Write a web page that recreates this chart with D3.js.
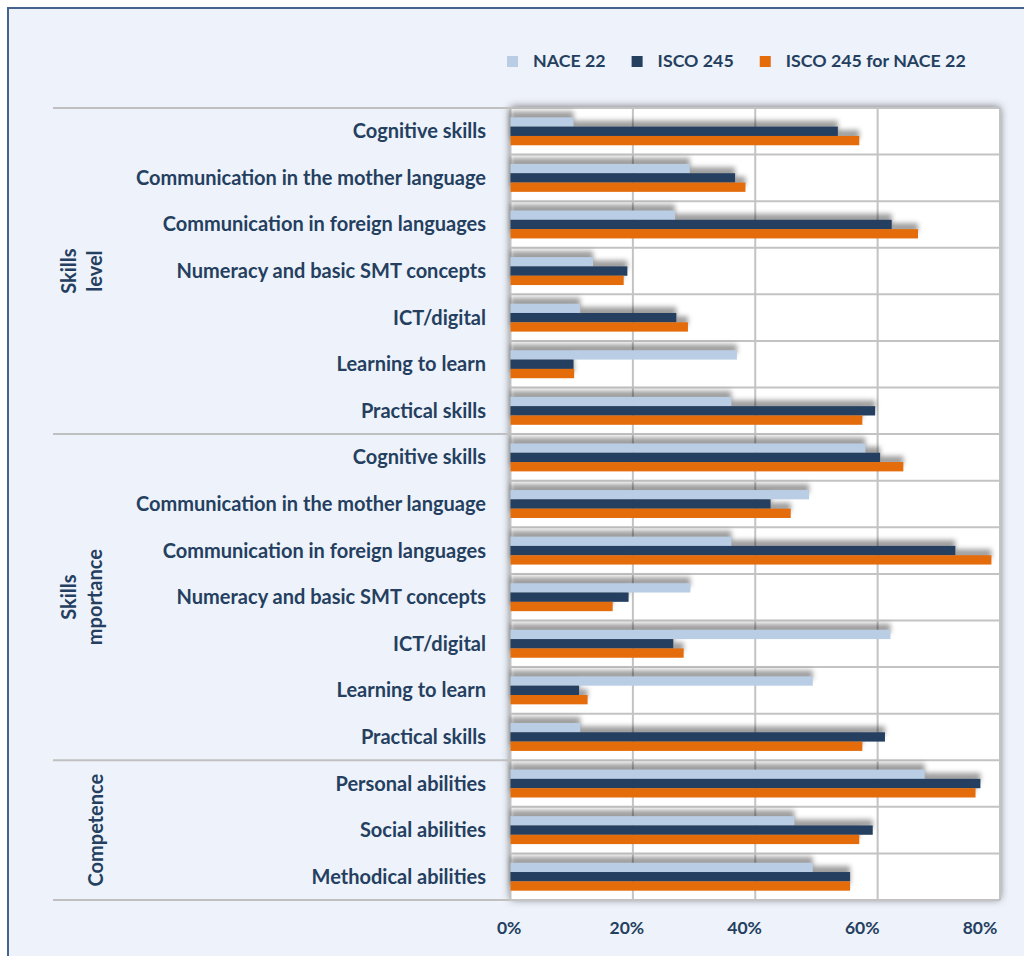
<!DOCTYPE html>
<html>
<head>
<meta charset="utf-8">
<script src="https://cdn.jsdelivr.net/npm/d3@7"></script>
<style>
  html, body { margin: 0; padding: 0; background: #ffffff; }
  svg { display: block; }
  text { font-family: Lato, "Open Sans", sans-serif; font-weight: 700; fill: #243f60; }
</style>
</head>
<body>
<svg id="chart" width="1024" height="956"></svg>
<script>
// Skill categories, top to bottom
const categories = [
  "Cognitive skills",
  "Communication in the mother language",
  "Communication in foreign languages",
  "Numeracy and basic SMT concepts",
  "ICT/digital",
  "Learning to learn",
  "Practical skills",
  "Cognitive skills",
  "Communication in the mother language",
  "Communication in foreign languages",
  "Numeracy and basic SMT concepts",
  "ICT/digital",
  "Learning to learn",
  "Practical skills",
  "Personal abilities",
  "Social abilities",
  "Methodical abilities"
];

// Category groups: label lines and number of rows in each
const groupLabels = [["Skills", "level"], ["Skills", "mportance"], ["Competence"]];
const groupSizes = [7, 7, 3];

// Series (percent)
const seriesNames = ["NACE 22", "ISCO 245", "ISCO 245 for NACE 22"];
const nace22 = [10.3, 29.3, 26.9, 13.5, 11.4, 37.0, 36.1, 58.0, 48.8, 36.1, 29.4, 62.1, 49.4, 11.4, 67.7, 46.4, 49.4];
const isco245 = [53.5, 36.7, 62.3, 19.1, 27.1, 10.3, 59.6, 60.4, 42.5, 72.7, 19.3, 26.6, 11.2, 61.2, 76.8, 59.2, 55.5];
const isco245ForNace22 = [57.0, 38.4, 66.6, 18.5, 29.0, 10.4, 57.5, 64.2, 45.8, 78.6, 16.7, 28.3, 12.6, 57.5, 76.0, 57.0, 55.5];

// Axis ticks
const tickValues = [0, 20, 40, 60, 80];

const seriesColors = ["#b9cde5", "#243f60", "#e46c0a"];
const seriesData = [nace22, isco245, isco245ForNace22];

const svg = d3.select("#chart");

// Panel background and frame
svg.append("rect")
  .attr("x", 8).attr("y", 8).attr("width", 1100).attr("height", 1000)
  .attr("fill", "#eef2fa").attr("stroke", "#46628f").attr("stroke-width", 2);

const plot = { left: 510.5, right: 1000, top: 108, bottom: 900 };

const x = d3.scaleLinear().domain([0, 80]).range([plot.left, plot.right]);
const y = d3.scaleBand().domain(d3.range(categories.length)).range([plot.top, plot.bottom]).paddingInner(0).paddingOuter(0);
const yInner = d3.scaleBand().domain(d3.range(seriesNames.length)).range([0, y.bandwidth() * 0.6]);
const groupOffset = y.bandwidth() * 0.2;

const defs = svg.append("defs");
const plotShadow = defs.append("filter").attr("id", "plotShadow")
  .attr("x", "-5%").attr("y", "-5%").attr("width", "110%").attr("height", "110%");
plotShadow.append("feDropShadow")
  .attr("dx", 0).attr("dy", -1).attr("stdDeviation", 4)
  .attr("flood-color", "#000").attr("flood-opacity", 0.55);

const barBlur = defs.append("filter").attr("id", "barBlur")
  .attr("x", "-10%").attr("y", "-50%").attr("width", "120%").attr("height", "200%");
barBlur.append("feGaussianBlur").attr("stdDeviation", 2.5);

// Plot area
svg.append("rect")
  .attr("x", plot.left).attr("y", plot.top)
  .attr("width", plot.right - plot.left).attr("height", plot.bottom - plot.top)
  .attr("fill", "#ffffff").attr("filter", "url(#plotShadow)");

// Gridlines
const grid = svg.append("g").attr("stroke", "#c3c3c3").attr("stroke-width", 2);
grid.selectAll("line.v").data(tickValues).join("line")
  .attr("class", "v")
  .attr("x1", d => x(d)).attr("x2", d => x(d))
  .attr("y1", plot.top).attr("y2", plot.bottom);
grid.selectAll("line.h").data(d3.range(categories.length + 1)).join("line")
  .attr("class", "h")
  .attr("x1", plot.left).attr("x2", plot.right)
  .attr("y1", d => plot.top + d * y.step()).attr("y2", d => plot.top + d * y.step());

// Bar records
const bars = [];
categories.forEach((c, i) => {
  seriesData.forEach((s, k) => bars.push({ i, k, v: s[i] }));
});

// Soft shadows above bars
svg.append("g")
  .attr("transform", "translate(0,-6)")
  .attr("filter", "url(#barBlur)")
  .selectAll("rect").data(bars).join("rect")
  .attr("x", x(0))
  .attr("y", d => y(d.i) + groupOffset + yInner(d.k))
  .attr("width", d => x(d.v) - x(0))
  .attr("height", yInner.bandwidth())
  .attr("fill", "#000").attr("fill-opacity", 0.38);

// Bars
svg.append("g")
  .selectAll("rect").data(bars).join("rect")
  .attr("x", x(0))
  .attr("y", d => y(d.i) + groupOffset + yInner(d.k))
  .attr("width", d => x(d.v) - x(0))
  .attr("height", yInner.bandwidth())
  .attr("fill", d => seriesColors[d.k]);

// Category labels
svg.append("g").selectAll("text").data(categories).join("text")
  .attr("x", 486)
  .attr("y", (d, i) => y(i) + y.bandwidth() / 2)
  .attr("dy", "0.35em")
  .attr("text-anchor", "end")
  .attr("font-size", 20)
  .text(d => d);

// Group separators and labels
const bounds = [0];
groupSizes.forEach(n => bounds.push(bounds[bounds.length - 1] + n));
svg.append("g").selectAll("line").data(bounds).join("line")
  .attr("x1", 53).attr("x2", plot.left)
  .attr("y1", d => plot.top + d * y.step()).attr("y2", d => plot.top + d * y.step())
  .attr("stroke", "#c0c0c0").attr("stroke-width", 2);

const lineX = [[69, 95], [69, 95], [96]];
groupLabels.forEach((lines, g) => {
  const cy = plot.top + (bounds[g] + bounds[g + 1]) / 2 * y.step();
  lines.forEach((t, j) => {
    svg.append("text")
      .attr("transform", `translate(${lineX[g][j]},${cy}) rotate(-90)`)
      .attr("text-anchor", "middle")
      .attr("dy", "0.35em")
      .attr("font-size", 20)
      .text(t);
  });
});

// Value axis labels
const xLabel = d3.scaleLinear().domain([0, 80]).range([508.7, 979.5]);
const axis = svg.append("g")
  .attr("transform", "translate(0,934)")
  .call(d3.axisBottom(xLabel).tickValues(tickValues).tickFormat(d => d + "%").tickSize(0).tickPadding(0));
axis.select(".domain").remove();
axis.selectAll("text")
  .attr("dy", 0)
  .attr("font-size", 17.5)
  .attr("font-family", "Lato, 'Open Sans', sans-serif")
  .attr("fill", "#243f60");

// Legend
const legend = svg.append("g").attr("transform", "translate(507,0)");
let lx = 0;
seriesNames.forEach((name, k) => {
  legend.append("rect")
    .attr("x", lx).attr("y", 56).attr("width", 11).attr("height", 11)
    .attr("fill", seriesColors[k]);
  const t = legend.append("text")
    .attr("x", lx + 26).attr("y", 67)
    .attr("font-size", 17.8)
    .text(name);
  lx += 26 + t.node().getComputedTextLength() + 26;
});
</script>
</body>
</html>
